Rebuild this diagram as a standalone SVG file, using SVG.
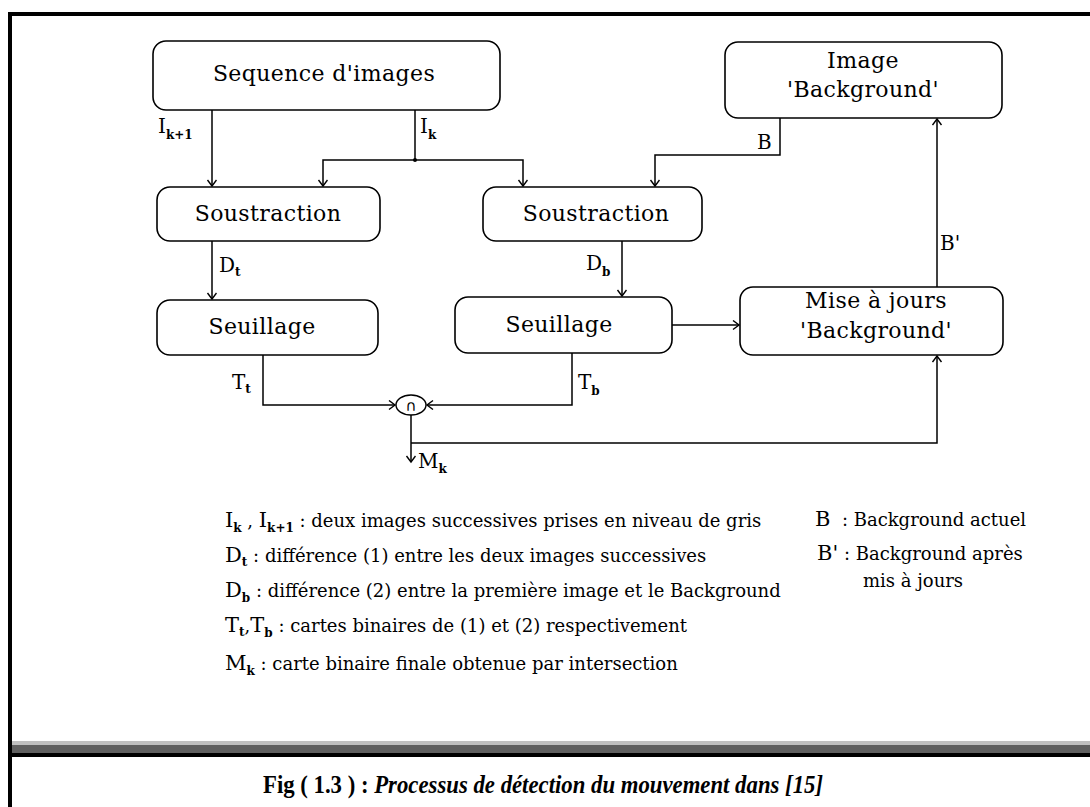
<svg xmlns="http://www.w3.org/2000/svg" width="1090" height="807" viewBox="0 0 1090 807">
<defs>
<marker id="ah" markerUnits="userSpaceOnUse" markerWidth="12" markerHeight="12" refX="7" refY="5" orient="auto">
<path d="M1,0.5 L7,5 L1,9.5" fill="none" stroke="#000" stroke-width="1.4"/>
</marker>
<style>
.box{fill:#fff;stroke:#000;stroke-width:1.6}
.ln{fill:none;stroke:#000;stroke-width:1.5}
.arr{marker-end:url(#ah)}
.t{font-family:"DejaVu Serif",serif;font-size:22px;letter-spacing:0.4px;text-anchor:middle;fill:#000}
.s{font-family:"DejaVu Serif",serif;font-size:20px;fill:#000}
.sub{font-size:12px;font-weight:bold}
.leg{font-family:"DejaVu Serif",serif;font-size:18px;fill:#000}
.big{font-size:21px}
.cap{font-family:"Liberation Serif",serif;font-size:25px;font-weight:bold;fill:#000}
</style>
</defs>
<rect x="0" y="0" width="1090" height="807" fill="#fff"/>
<rect x="8" y="12" width="1082" height="4" fill="#000"/>
<rect x="8" y="12" width="4" height="795" fill="#000"/>
<rect x="12" y="741" width="1078" height="4" fill="#c0c0c0"/>
<rect x="12" y="745" width="1078" height="8" fill="#606060"/>
<rect x="12" y="753" width="1078" height="4" fill="#000"/>

<g id="connectors">
<path class="ln arr" d="M212,110 V186"/>
<path class="ln" d="M415,110 V160"/>
<path class="ln arr" d="M415,160 H323 V186"/>
<path class="ln arr" d="M415,160 H523 V186"/>
<circle cx="415" cy="160" r="2" fill="#000"/>
<path class="ln arr" d="M780,118 V155 H655 V186"/>
<path class="ln arr" d="M212,241 V299"/>
<path class="ln arr" d="M622,241 V296"/>
<path class="ln arr" d="M672,325 H739"/>
<path class="ln arr" d="M937,287 V119"/>
<path class="ln arr" d="M263,355 V405 H395"/>
<path class="ln arr" d="M572,353 V405 H427"/>
<path class="ln arr" d="M411,415 V462"/>
<path class="ln arr" d="M411,443 H937 V356"/>
<text class="s" x="158" y="133">I<tspan class="sub" dy="6">k+1</tspan></text>
<text class="s" x="420" y="133">I<tspan class="sub" dy="6">k</tspan></text>
<text class="s" x="757" y="149">B</text>
<text class="s" x="940" y="250">B'</text>
<text class="s" x="219" y="272">D<tspan class="sub" dy="4">t</tspan></text>
<text class="s" x="586" y="270">D<tspan class="sub" dy="6">b</tspan></text>
<text class="s" x="232" y="389">T<tspan class="sub" dy="4">t</tspan></text>
<text class="s" x="578" y="389">T<tspan class="sub" dy="6">b</tspan></text>
<text class="s" x="418" y="468">M<tspan class="sub" dy="5">k</tspan></text>
</g>

<g id="seq"><rect class="box" x="153" y="41" width="347" height="69" rx="13"/><text class="t" x="324" y="81">Sequence d'images</text></g>
<g id="img"><rect class="box" x="725" y="42" width="277" height="76" rx="13"/><text class="t" x="863" y="68">Image</text><text class="t" x="863" y="97">'Background'</text></g>
<g id="sous1"><rect class="box" x="157" y="187" width="223" height="54" rx="13"/><text class="t" x="268" y="221">Soustraction</text></g>
<g id="sous2"><rect class="box" x="483" y="187" width="219" height="54" rx="13"/><text class="t" x="596" y="221">Soustraction</text></g>
<g id="seuil1"><rect class="box" x="157" y="300" width="221" height="55" rx="13"/><text class="t" x="262" y="334">Seuillage</text></g>
<g id="seuil2"><rect class="box" x="455" y="297" width="217" height="56" rx="13"/><text class="t" x="559" y="332">Seuillage</text></g>
<g id="mise"><rect class="box" x="740" y="287" width="263" height="68" rx="13"/><text class="t" x="876" y="308">Mise à jours</text><text class="t" x="876" y="338">'Background'</text></g>
<g id="inter"><ellipse cx="411" cy="405" rx="15" ry="10" fill="#fff" stroke="#000" stroke-width="1.4"/><text x="411" y="411" font-family="DejaVu Sans, sans-serif" font-size="15" text-anchor="middle">∩</text></g>

<g id="legend">
<text class="leg" x="225" y="527"><tspan class="big">I</tspan><tspan class="sub" dy="5">k</tspan><tspan dy="-5"> , </tspan><tspan class="big">I</tspan><tspan class="sub" dy="5">k+1</tspan><tspan dy="-5"> : deux images successives prises en niveau de gris</tspan></text>
<text class="leg" x="225" y="562"><tspan class="big">D</tspan><tspan class="sub" dy="4">t</tspan><tspan dy="-4"> : différence (1) entre les deux images successives</tspan></text>
<text class="leg" x="225" y="597"><tspan class="big">D</tspan><tspan class="sub" dy="5">b</tspan><tspan dy="-5"> : différence (2) entre la première image et le Background</tspan></text>
<text class="leg" x="225" y="632"><tspan class="big">T</tspan><tspan class="sub" dy="4">t</tspan><tspan dy="-4">,</tspan><tspan class="big">T</tspan><tspan class="sub" dy="5">b</tspan><tspan dy="-5"> : cartes binaires de (1) et (2) respectivement</tspan></text>
<text class="leg" x="225" y="670"><tspan class="big">M</tspan><tspan class="sub" dy="5">k</tspan><tspan dy="-5"> : carte binaire finale obtenue par intersection</tspan></text>
<text class="leg" x="815" y="526" xml:space="preserve"><tspan class="big">B</tspan>  : Background actuel</text>
<text class="leg" x="817" y="560"><tspan class="big">B'</tspan> : Background après</text>
<text class="leg" x="863" y="587">mis à jours</text>
</g>

<text class="cap" x="263" y="793" textLength="560" lengthAdjust="spacingAndGlyphs">Fig ( 1.3 ) : <tspan font-style="italic">Processus de détection du mouvement dans [15]</tspan></text>
</svg>
